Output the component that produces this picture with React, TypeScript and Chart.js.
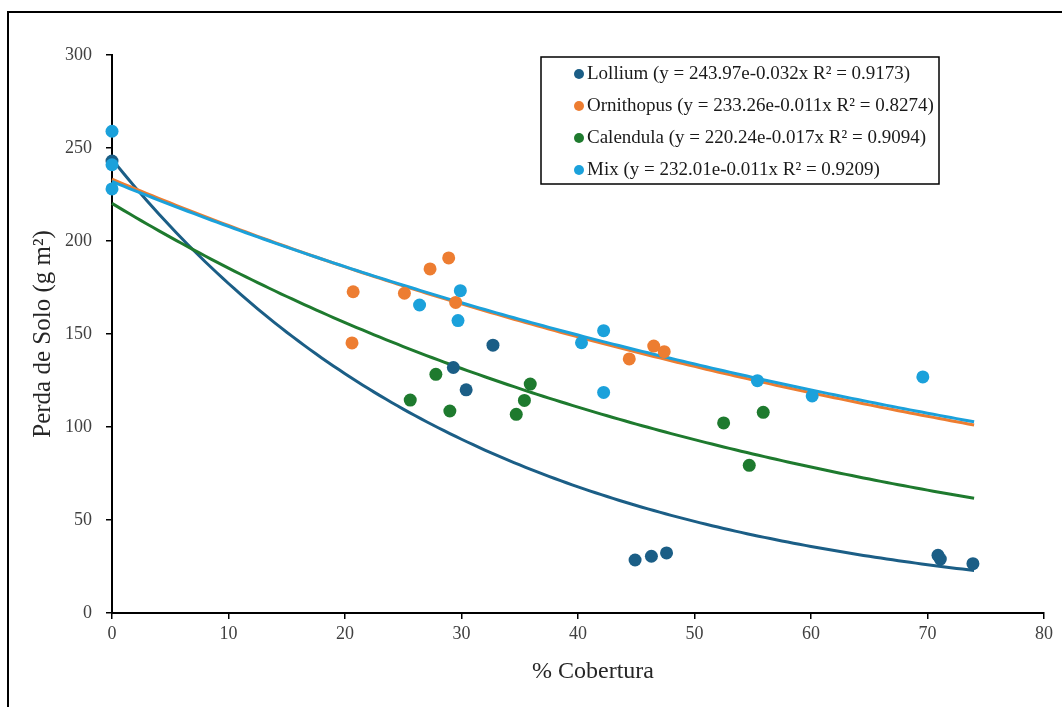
import React, { useEffect, useRef } from "react";
import { Chart, registerables } from "chart.js";

Chart.register(...registerables);

// ---- Data ----
const seriesNames = ["Lollium", "Ornithopus", "Calendula", "Mix"];
const legendLabels = [
  "Lollium (y = 243.97e-0.032x R² = 0.9173)",
  "Ornithopus (y = 233.26e-0.011x R² = 0.8274)",
  "Calendula (y = 220.24e-0.017x R² = 0.9094)",
  "Mix (y = 232.01e-0.011x R² = 0.9209)",
];
const colors = ["#1B5E86", "#ED7D31", "#1E7A2E", "#1BA1DB"];

const lolliumX = [0, 29.3, 30.4, 32.7, 44.9, 46.3, 47.6, 70.9, 71.1, 73.9];
const lolliumY = [243, 132, 120, 144, 28.5, 30.5, 32.3, 31, 29, 26.5];

const ornithopusX = [20.7, 20.6, 25.1, 27.3, 28.9, 29.5, 44.4, 46.5, 47.4];
const ornithopusY = [172.7, 145.2, 171.9, 185, 190.9, 167, 136.6, 143.5, 140.5];

const calendulaX = [25.6, 27.8, 29.0, 34.7, 35.4, 35.9, 52.5, 54.7, 55.9];
const calendulaY = [114.5, 128.3, 108.6, 106.8, 114.3, 123.1, 102.2, 79.4, 107.9];

const mixX = [0, 0, 0, 26.4, 29.9, 29.7, 40.3, 42.2, 42.2, 55.4, 60.1, 69.6];
const mixY = [259, 241, 228, 165.6, 173.3, 157.2, 145.3, 151.8, 118.6, 124.9, 116.7, 126.9];

// Exponential trendlines y = a * e^(b x); b (legend shows rounded values)
const trendA = [243.97, 233.26, 220.24, 232.01];
const trendB = [-0.032, -0.0113, -0.0172, -0.011];
const trendXMin = 0;
const trendXMax = 74;

const xTicks = [0, 10, 20, 30, 40, 50, 60, 70, 80];
const yTicks = [0, 50, 100, 150, 200, 250, 300];

const xTitle = "% Cobertura";
const yTitle = "Perda de Solo (g m²)";

const SERIF = "'Liberation Serif', 'Times New Roman', serif";

function pts(xs: number[], ys: number[]) {
  return xs.map((x, i) => ({ x, y: ys[i] }));
}

function trend(a: number, b: number) {
  const out: { x: number; y: number }[] = [];
  for (let x = trendXMin; x <= trendXMax + 1e-9; x += 0.5) {
    out.push({ x, y: a * Math.exp(b * x) });
  }
  return out;
}

const legendPlugin = {
  id: "boxLegend",
  afterDraw(chart: any) {
    const ctx = chart.ctx;
    const boxX = 532, boxY = 44, boxW = 398, boxH = 127;
    ctx.save();
    ctx.strokeStyle = "#000";
    ctx.lineWidth = 1.5;
    ctx.strokeRect(boxX, boxY, boxW, boxH);
    ctx.font = `19px ${SERIF}`;
    ctx.textBaseline = "middle";
    ctx.textAlign = "left";
    legendLabels.forEach((lab, i) => {
      const cy = 61 + i * 32;
      ctx.beginPath();
      ctx.fillStyle = colors[i];
      ctx.arc(570, cy, 5, 0, Math.PI * 2);
      ctx.fill();
      ctx.fillStyle = "#1a1a1a";
      ctx.fillText(lab, 578, cy);
    });
    ctx.restore();
  },
};

const xTitlePlugin = {
  id: "xTitle",
  afterDraw(chart: any) {
    const ctx = chart.ctx;
    const { left, right } = chart.chartArea;
    ctx.save();
    ctx.font = `24px ${SERIF}`;
    ctx.fillStyle = "#262626";
    ctx.textAlign = "center";
    ctx.textBaseline = "middle";
    ctx.fillText(xTitle, (left + right) / 2 + 15, 659);
    ctx.restore();
  },
};

export default function App() {
  const ref = useRef<HTMLCanvasElement>(null);

  useEffect(() => {
    if (!ref.current) return;
    const pointSets = [
      pts(lolliumX, lolliumY),
      pts(ornithopusX, ornithopusY),
      pts(calendulaX, calendulaY),
      pts(mixX, mixY),
    ];
    const pointDataset = (i: number) => ({
      label: seriesNames[i],
      data: pointSets[i],
      showLine: false,
      pointRadius: 6.5,
      pointHoverRadius: 6.5,
      pointBackgroundColor: colors[i],
      pointBorderWidth: 0,
      backgroundColor: colors[i],
      borderColor: colors[i],
      clip: false,
    });
    const lineDataset = (i: number) => ({
      label: seriesNames[i] + " trend",
      data: trend(trendA[i], trendB[i]),
      showLine: true,
      pointRadius: 0,
      borderColor: colors[i],
      borderWidth: 3,
      fill: false,
      tension: 0,
      clip: false,
    });
    // First dataset is drawn top-most: markers above trendlines, Mix above the others
    const datasets = [
      pointDataset(3),
      pointDataset(2),
      pointDataset(1),
      pointDataset(0),
      lineDataset(3),
      lineDataset(1),
      lineDataset(2),
      lineDataset(0),
    ];

    const chart = new Chart(ref.current, {
      type: "scatter",
      data: { datasets: datasets as any },
      plugins: [legendPlugin, xTitlePlugin],
      options: {
        animation: false,
        responsive: false,
        devicePixelRatio: 1,
        layout: { padding: { top: 42, right: 18, bottom: 0, left: 0 } },
        plugins: {
          legend: { display: false },
          tooltip: { enabled: false },
        },
        scales: {
          x: {
            type: "linear",
            min: 0,
            max: 80,
            afterBuildTicks: (s: any) => {
              s.ticks = xTicks.map((v) => ({ value: v }));
            },
            afterFit: (s: any) => {
              s.height = 94;
            },
            border: { color: "#000", width: 2 },
            grid: {
              display: true,
              drawOnChartArea: false,
              drawTicks: true,
              tickLength: 6,
              color: "#000",
              lineWidth: 1.5,
            },
            ticks: {
              color: "#404040",
              font: { family: SERIF, size: 18 },
              padding: 4,
            },
            title: { display: false },
          },
          y: {
            type: "linear",
            min: 0,
            max: 300,
            afterBuildTicks: (s: any) => {
              s.ticks = yTicks.map((v) => ({ value: v }));
            },
            afterFit: (s: any) => {
              s.width = 103;
            },
            border: { color: "#000", width: 2 },
            grid: {
              display: true,
              drawOnChartArea: false,
              drawTicks: true,
              tickLength: 6,
              color: "#000",
              lineWidth: 1.5,
            },
            ticks: {
              color: "#404040",
              font: { family: SERIF, size: 18 },
              padding: 14,
            },
            title: {
              display: true,
              text: yTitle,
              color: "#262626",
              font: { family: SERIF, size: 25 },
              padding: { top: 19, bottom: 0 },
            },
          },
        },
      },
    });
    return () => chart.destroy();
  }, []);

  return (
    <div
      style={{
        position: "absolute",
        left: 7,
        top: 11,
        width: 1053,
        height: 694,
        borderTop: "2px solid #000",
        borderLeft: "2px solid #000",
        background: "#fff",
      }}
    >
      <canvas ref={ref} width={1053} height={694} style={{ display: "block", width: 1053, height: 694 }} />
    </div>
  );
}
